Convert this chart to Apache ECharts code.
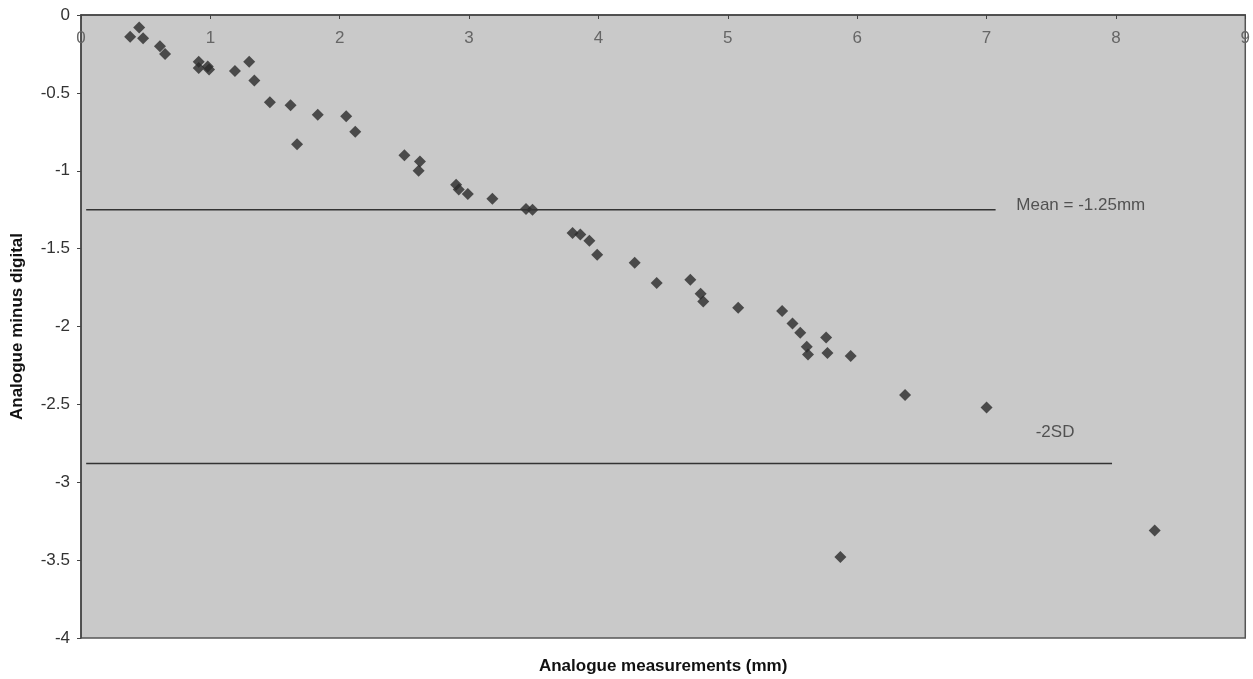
<!DOCTYPE html>
<html><head><meta charset="utf-8">
<script src="https://cdn.jsdelivr.net/npm/echarts@6/dist/echarts.min.js"></script>
<style>html,body{margin:0;padding:0;background:#fff}#c{width:1253px;height:679px}</style>
</head><body><div id="c"></div>
<script>
const xValues = [0.38,0.45,0.48,0.61,0.65,0.91,0.91,0.98,0.99,1.19,1.30,1.34,1.46,1.62,1.67,1.83,2.05,2.12,2.50,2.62,2.61,2.90,2.92,2.99,3.18,3.44,3.49,3.80,3.86,3.93,3.99,4.28,4.45,4.71,4.79,4.81,5.08,5.42,5.50,5.56,5.61,5.62,5.76,5.77,5.95,6.37,7.00,5.87,8.30];
const yValues = [-0.14,-0.08,-0.15,-0.20,-0.25,-0.30,-0.34,-0.33,-0.35,-0.36,-0.30,-0.42,-0.56,-0.58,-0.83,-0.64,-0.65,-0.75,-0.90,-0.94,-1.00,-1.09,-1.12,-1.15,-1.18,-1.245,-1.25,-1.40,-1.41,-1.45,-1.54,-1.59,-1.72,-1.70,-1.79,-1.84,-1.88,-1.90,-1.98,-2.04,-2.13,-2.18,-2.07,-2.17,-2.19,-2.44,-2.52,-3.48,-3.31];
const meanValue = -1.25;
const meanLineX = [0.04, 7.07];
const sdValue = -2.88;
const sdLineX = [0.04, 7.97];
const meanLabel = 'Mean = -1.25mm';
const sdLabel = '-2SD';
const meanLabelPos = [7.23, -1.22];
const sdLabelPos = [7.38, -2.68];
const xTicks = [0,1,2,3,4,5,6,7,8,9];
const yTicks = [0,-0.5,-1,-1.5,-2,-2.5,-3,-3.5,-4];

const pts = xValues.map((x,i)=>[x,yValues[i]]);
const chart = echarts.init(document.getElementById('c'));
const font = 'Liberation Sans, Arial, sans-serif';
chart.setOption({
  backgroundColor:'#ffffff',
  animation:false,
  grid:{left:81,right:6,top:15,bottom:40,show:true,backgroundColor:'#c9c9c9',borderColor:'#555',borderWidth:1.5},
  xAxis:{type:'value',position:'top',min:0,max:9,interval:1,
    name:'Analogue measurements (mm)',nameLocation:'middle',nameGap:-660,
    nameTextStyle:{fontFamily:font,fontWeight:'bold',fontSize:17,color:'#111'},
    axisLine:{show:true,lineStyle:{color:'#444',width:1.5}},
    axisTick:{show:true,inside:true,length:4,lineStyle:{color:'#444'}},
    axisLabel:{inside:true,margin:15,fontFamily:font,fontSize:17,color:'#666',
      formatter:v=>xTicks.includes(v)?String(v):''},
    splitLine:{show:false}},
  yAxis:{type:'value',min:-4,max:0,interval:0.5,
    name:'Analogue minus digital',nameLocation:'middle',nameGap:55,nameRotate:90,
    nameTextStyle:{fontFamily:font,fontWeight:'bold',fontSize:17,color:'#111'},
    axisLine:{show:true,lineStyle:{color:'#444',width:1.5}},
    axisTick:{show:true,length:4,lineStyle:{color:'#444'}},
    axisLabel:{margin:11,fontFamily:font,fontSize:17,color:'#333',
      formatter:v=>yTicks.includes(v)?String(v):''},
    splitLine:{show:false}},
  series:[
    {type:'line',data:meanLineX.map(x=>[x,meanValue]),symbol:'none',silent:true,
      lineStyle:{color:'#333',width:1.5}},
    {type:'line',data:sdLineX.map(x=>[x,sdValue]),symbol:'none',silent:true,
      lineStyle:{color:'#333',width:1.5}},
    {type:'scatter',data:pts,symbol:'diamond',symbolSize:12,
      itemStyle:{color:'#2a2a2a'}},
    {type:'scatter',data:[meanLabelPos],symbolSize:0,silent:true,
      label:{show:true,position:'right',distance:0,formatter:meanLabel,fontFamily:font,fontSize:17,color:'#333'}},
    {type:'scatter',data:[sdLabelPos],symbolSize:0,silent:true,
      label:{show:true,position:'right',distance:0,formatter:sdLabel,fontFamily:font,fontSize:17,color:'#333'}}
  ]
});
</script></body></html>
